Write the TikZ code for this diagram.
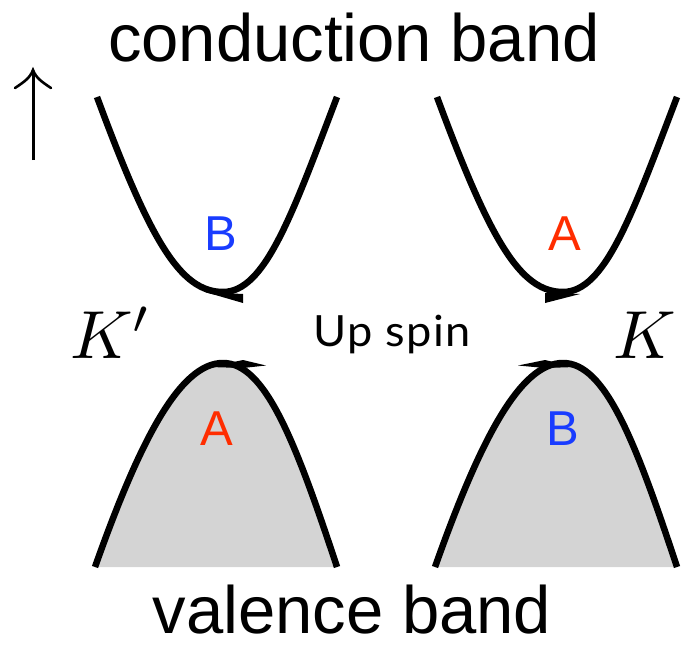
\documentclass[tikz,border=0pt]{standalone}
\usepackage{graphicx}
\usepackage{fontspec}
\setmainfont{Liberation Sans}
\newfontfamily\spinfont[LetterSpace=3,FakeStretch=1.05]{Lato}
\definecolor{bandblue}{RGB}{25,60,255}
\definecolor{bandred}{RGB}{255,45,0}
\definecolor{bandgray}{RGB}{212,212,212}
\tikzset{
  bandline/.style={line width=6.5pt, line join=round, line cap=butt},
  wedge/.style={fill=black, draw=none},
  lbl/.style={inner sep=0pt, anchor=base},
  big/.style={lbl, font=\fontsize{67}{80}\selectfont},
  sub/.style={lbl, font=\fontsize{49}{58}\selectfont},
  kval/.style={lbl, font=\fontsize{10}{12}\selectfont},
}
\begin{document}
\begin{tikzpicture}[x=1pt,y=-1pt]
\useasboundingbox (0,0) rectangle (682,646);
% titles
\node[big] (cb) at (354,61) {conduction band};
\node[big] (vb) at (352,633) {valence band};
\node[lbl, font=\spinfont\fontsize{43}{50}\selectfont] (us) at (392,346) {Up spin};
% up arrow
\draw[line width=3pt] (33,160) -- (33,72);
\draw[line width=2.6pt, line cap=round] (15,88) .. controls (24,82) and (30,78) .. (33,70) .. controls (36,78) and (42,82) .. (51,88);
% valleys
\node[kval] (kp) at (111,358) {\scalebox{6.8}{$K'$}};
\node[kval] (k) at (645,358) {\scalebox{6.8}{$K$}};
% left valley (K')
\fill[bandgray] (95,567) .. controls (140,440) and (180,363) .. (223,363) .. controls (265,363) and (295,440) .. (337,567) -- cycle;
\draw[bandline] (97,97) .. controls (150,240) and (180,292) .. (223,292) .. controls (265,292) and (292,215) .. (337,97);
\draw[bandline] (95,567) .. controls (140,440) and (180,363) .. (223,363) .. controls (265,363) and (295,440) .. (337,567);
\fill[wedge] (205,292) -- (243,294) -- (243,303) -- cycle;
\fill[wedge] (210,367) -- (243,360) -- (266,365.5) -- (243,368) -- cycle;
% right valley (K)
\begin{scope}[xshift=340pt]
\fill[bandgray] (95,567) .. controls (140,440) and (180,363) .. (223,363) .. controls (265,363) and (295,440) .. (337,567) -- cycle;
\draw[bandline] (97,97) .. controls (150,240) and (180,292) .. (223,292) .. controls (265,292) and (292,215) .. (337,97);
\draw[bandline] (95,567) .. controls (140,440) and (180,363) .. (223,363) .. controls (265,363) and (295,440) .. (337,567);
\end{scope}
\fill[wedge] (580,294) -- (545,293) -- (545,303) -- cycle;
\fill[wedge] (575,367) -- (545,360) -- (518,365.5) -- (545,368) -- cycle;
% sublattice labels
\node[sub, text=bandblue] (b1) at (221,250) {B};
\node[sub, text=bandred] (a1) at (565,250) {A};
\node[sub, text=bandred] (a2) at (217,445) {A};
\node[sub, text=bandblue] (b2) at (563,445) {B};
\end{tikzpicture}
\end{document}
